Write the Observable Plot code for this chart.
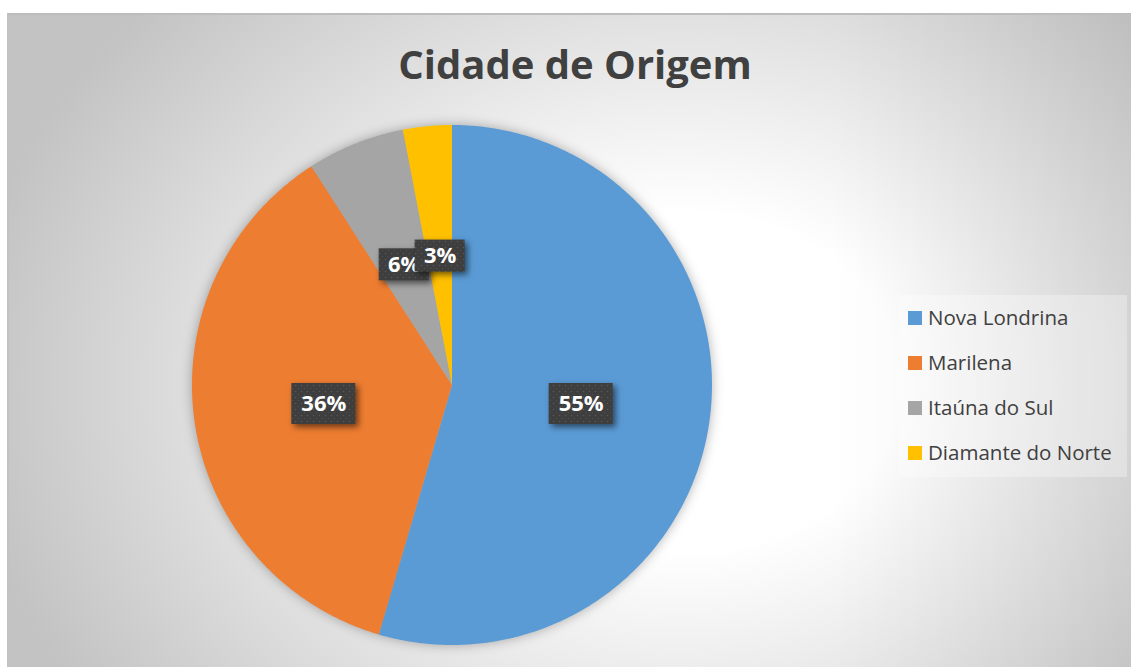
<!DOCTYPE html>
<html>
<head>
<meta charset="utf-8">
<script src="https://cdn.jsdelivr.net/npm/d3@7"></script>
<script src="https://cdn.jsdelivr.net/npm/@observablehq/plot@0.6"></script>
<style>
  html, body { margin: 0; padding: 0; background: #ffffff; }
  #chart { position: relative; width: 1131px; height: 667px; overflow: hidden; font-family: "Open Sans", sans-serif; }
  #frame {
    position: absolute; left: 7px; top: 13px; width: 1140px; height: 670px;
    border-top: 2px solid #bdbdbd; border-left: 2px solid #c2c2c2;
    background:
      linear-gradient(to right, rgba(0,0,0,0) 72%, rgba(0,0,0,0.07) 100%),
      radial-gradient(ellipse 720px 560px at 673px 367px, #ffffff 30%, #c3c3c3 100%);
  }
  #title {
    position: absolute; left: 0; top: 44px; width: 1150px; text-align: center;
    font-family: "Open Sans", sans-serif; font-weight: bold; font-size: 40px; line-height: 1;
    color: #404040;
  }
  #legendbox { position: absolute; left: 899px; top: 295px; width: 228px; height: 182px; background: rgba(255,255,255,0.3); }
  .lg-sw { position: absolute; width: 14px; height: 14px; }
  .lg-tx { position: absolute; font-family: "Open Sans", sans-serif; font-size: 20.5px; line-height: 1; color: #404040; white-space: nowrap; }
  #chart svg.plot { position: absolute; left: 0; top: 0; }
  #chart svg g[aria-label="area"] { filter: drop-shadow(0px 0px 6px rgba(0,0,0,0.3)); }
  #chart svg g[aria-label="rect"] { filter: drop-shadow(3px 3px 3px rgba(0,0,0,0.55)); }
</style>
</head>
<body>
<svg width="0" height="0" style="position:absolute">
  <defs>
    <pattern id="dots" width="6" height="6" patternUnits="userSpaceOnUse">
      <rect width="6" height="6" fill="#3e3e3e"></rect>
      <circle cx="1.5" cy="1.5" r="0.8" fill="#575757"></circle>
      <circle cx="4.5" cy="4.5" r="0.8" fill="#4c4c4c"></circle>
    </pattern>
  </defs>
</svg>
<div id="chart">
  <div id="frame"></div>
  <div id="title"></div>
  <div id="legendbox"></div>
</div>
<script>
// ---- data ----
const titleText = "Cidade de Origem";
const cities = ["Nova Londrina", "Marilena", "Itaúna do Sul", "Diamante do Norte"];
const counts = [18, 12, 2, 1];
const colors = ["#5B9BD5", "#ED7D31", "#A5A5A5", "#FFC000"];

// ---- layout ----
const CX = 452, CY = 385, RPX = 260;
const chart = document.getElementById("chart");
document.getElementById("title").textContent = titleText;

const total = d3.sum(counts);
const arcs = d3.pie().sort(null).value(d => d)(counts);

// arc outline points for each slice (geometry of the wedge)
const slicePoints = arcs.flatMap((a, i) => {
  const n = Math.max(2, Math.ceil((a.endAngle - a.startAngle) / 0.01));
  return d3.range(n + 1).map(k => {
    const t = a.startAngle + (a.endAngle - a.startAngle) * k / n;
    return {city: cities[i], x: Math.sin(t), y: Math.cos(t)};
  });
});

const labels = arcs.map((a, i) => {
  const m = (a.startAngle + a.endAngle) / 2;
  return {city: cities[i], text: Math.round(counts[i] / total * 100) + "%", x: 0.5 * Math.sin(m), y: 0.5 * Math.cos(m)};
});

const boxW = d => (22 + 14 * d.text.length) / RPX;
const boxH = d => (14 + 9 * d.text.length) / RPX;

const labelMarks = labels.flatMap(l => [
  Plot.rect([l], {
    x1: d => d.x - boxW(d) / 2, x2: d => d.x + boxW(d) / 2,
    y1: d => d.y - boxH(d) / 2, y2: d => d.y + boxH(d) / 2,
    fill: "url(#dots)"
  }),
  Plot.text([l], {
    x: "x", y: "y", text: "text", fill: "white",
    fontSize: 22, fontWeight: "bold", fontFamily: "Open Sans"
  })
]);

const svg = Plot.plot({
  width: 1131,
  height: 667,
  margin: 0,
  style: {background: "transparent", fontFamily: "Open Sans", overflow: "visible"},
  x: {domain: [-1, 1], range: [CX - RPX, CX + RPX], axis: null},
  y: {domain: [-1, 1], range: [CY + RPX, CY - RPX], axis: null},
  color: {domain: cities, range: colors},
  marks: [
    Plot.area(slicePoints, {x1: 0, y1: 0, x2: "x", y2: "y", z: "city", fill: "city", curve: "linear"}),
    ...labelMarks
  ]
});
svg.classList.add("plot");
chart.appendChild(svg);

// ---- legend ----
cities.forEach((c, i) => {
  const sw = document.createElement("div");
  sw.className = "lg-sw";
  sw.style.left = "908px";
  sw.style.top = (311 + 45 * i) + "px";
  sw.style.background = colors[i];
  chart.appendChild(sw);
  const tx = document.createElement("div");
  tx.className = "lg-tx";
  tx.style.left = "928px";
  tx.style.top = (307 + 45 * i) + "px";
  tx.textContent = c;
  chart.appendChild(tx);
});
</script>
</body>
</html>
